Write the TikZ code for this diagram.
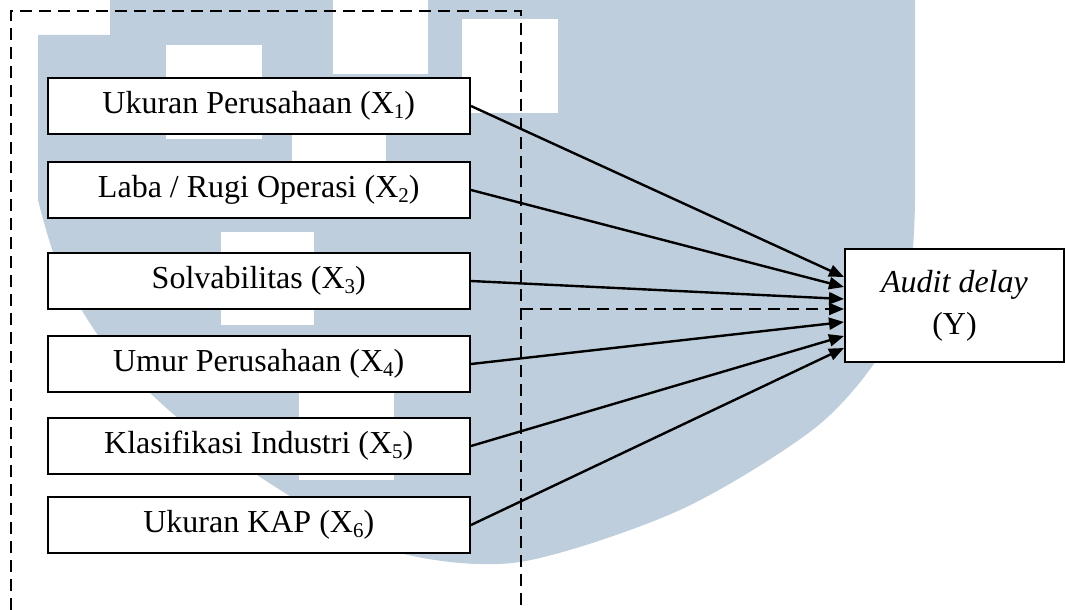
\documentclass[tikz,border=0pt]{standalone}
\usepackage{fontspec}
\setmainfont{Liberation Serif}
\usetikzlibrary{arrows.meta,calc}
\definecolor{wm}{RGB}{190,206,220}
\newcommand{\sbx}[1]{\raisebox{-0.14em}{\fontsize{21}{21}\selectfont #1}}
\begin{document}
\begin{tikzpicture}[x=1pt,y=-1pt,
  var/.style={draw,line width=2pt,fill=white,minimum width=422.5pt,minimum height=56pt,inner sep=0pt,font=\fontsize{32}{38}\selectfont},
  dep/.style={draw,line width=2pt,fill=white,minimum width=219pt,minimum height=113pt,inner sep=0pt,align=center,font=\fontsize{32}{42}\selectfont},
  arr/.style={line width=2.4pt,-{Triangle[length=15pt,width=12pt]}},
  dsh/.style={line width=2pt,dash pattern=on 12pt off 7pt}]
\useasboundingbox (0,0) rectangle (1065,610);
% watermark
\fill[wm] (110,0) -- (110,35) -- (38,35) --
  plot[smooth] coordinates {(38,200) (60,270) (109,350) (190,428) (306,506) (400,553) (520,562) (680,510) (815,428) (883,350) (910,272) (915,200)}
  -- (915,0) -- cycle;
\fill[white] (166,45) rectangle (262,139);
\fill[white] (333,0) rectangle (428,74);
\fill[white] (462,19) rectangle (558,113);
\fill[white] (292,110) rectangle (386,200);
\fill[white] (221,232) rectangle (314,325);
\fill[white] (299,389) rectangle (394,480);
% dashed frame
\coordinate (fbl) at (11,610);
\coordinate (ftl) at (11,11);
\coordinate (ftr) at (521,11);
\coordinate (fbr) at (521,610);
\draw[dsh] (fbl) -- (ftl) -- (ftr) -- (fbr);
% nodes
\node[var] (b1) at (258.75,106) {Ukuran Perusahaan (X\sbx{1})};
\node[var] (b2) at (258.75,190) {Laba / Rugi Operasi (X\sbx{2})};
\node[var] (b3) at (258.75,281) {Solvabilitas (X\sbx{3})};
\node[var] (b4) at (258.75,364) {Umur Perusahaan (X\sbx{4})};
\node[var] (b5) at (258.75,446) {Klasifikasi Industri (X\sbx{5})};
\node[var] (b6) at (258.75,525) {Ukuran KAP (X\sbx{6})};
\node[dep] (y) at (954.5,305.5) {\textit{Audit delay}\\(Y)};
% arrows
\draw[arr] (b1.east) -- ([yshift=28.5pt]y.west);
\draw[arr] (b2.east) -- ([yshift=18.5pt]y.west);
\draw[arr] (b3.east) -- ([yshift=6.5pt]y.west);
\coordinate (d) at (521,309);
\draw[dsh,-{Triangle[length=15pt,width=12pt]}] (d) -- (d -| y.west);
\draw[arr] (b4.east) -- ([yshift=-16.5pt]y.west);
\draw[arr] (b5.east) -- ([yshift=-30.5pt]y.west);
\draw[arr] (b6.east) -- ([yshift=-42.5pt]y.west);
\end{tikzpicture}
\end{document}
